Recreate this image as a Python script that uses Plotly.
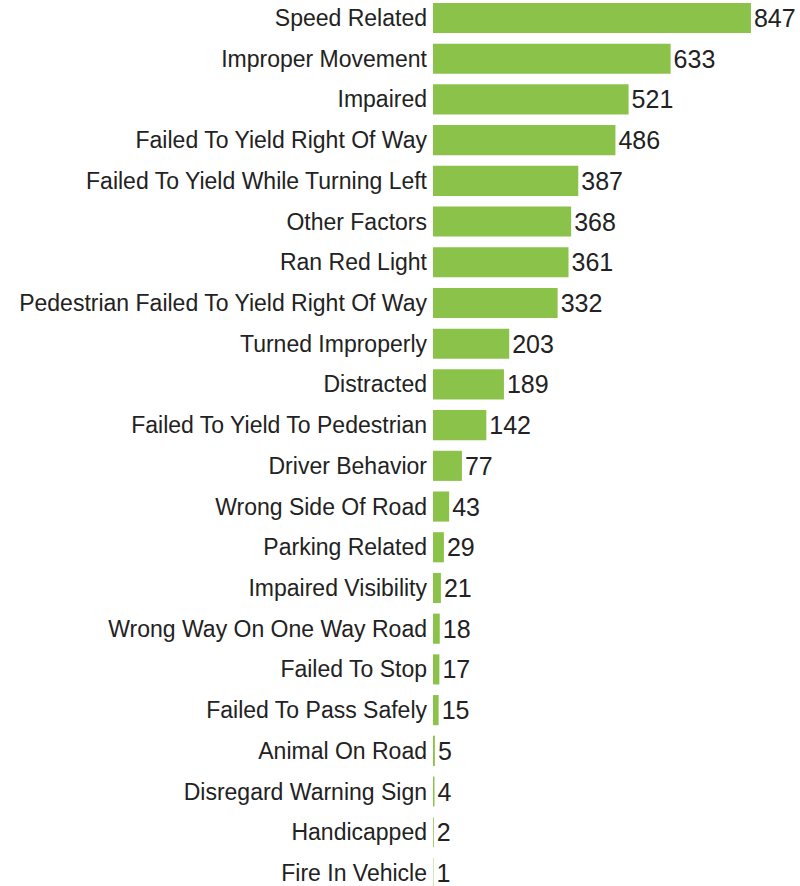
import plotly.graph_objects as go

categories = [
    "Speed Related", "Improper Movement", "Impaired", "Failed To Yield Right Of Way",
    "Failed To Yield While Turning Left", "Other Factors", "Ran Red Light",
    "Pedestrian Failed To Yield Right Of Way", "Turned Improperly", "Distracted",
    "Failed To Yield To Pedestrian", "Driver Behavior", "Wrong Side Of Road",
    "Parking Related", "Impaired Visibility", "Wrong Way On One Way Road",
    "Failed To Stop", "Failed To Pass Safely", "Animal On Road",
    "Disregard Warning Sign", "Handicapped", "Fire In Vehicle",
]
values = [847, 633, 521, 486, 387, 368, 361, 332, 203, 189, 142, 77, 43, 29, 21, 18, 17, 15, 5, 4, 2, 1]

fig = go.Figure(go.Bar(
    x=values, y=categories, orientation="h",
    marker=dict(color="#8BC34A", line=dict(width=0)),
    text=[str(v) for v in values], textposition="outside",
    textfont=dict(family="Liberation Sans, Arial", size=25, color="#222222"),
    cliponaxis=False,
    hoverinfo="skip",
))

fig.update_layout(
    width=800, height=886,
    margin=dict(l=433, r=10, t=0, b=0),
    paper_bgcolor="white", plot_bgcolor="white",
    bargap=0.26,
    showlegend=False,
    font=dict(family="Liberation Sans, Arial", size=23, color="#222222"),
    xaxis=dict(range=[0, 951], visible=False),
    yaxis=dict(range=[21.32, -0.442], showgrid=False, showline=False, ticks="",
               ticklabelstandoff=5, tickfont=dict(size=23, color="#222222")),
)

fig.write_html(
    "out.html",
    config={"displayModeBar": False, "staticPlot": True},
    post_script="document.body.style.margin='0';document.body.style.overflow='hidden';",
)
